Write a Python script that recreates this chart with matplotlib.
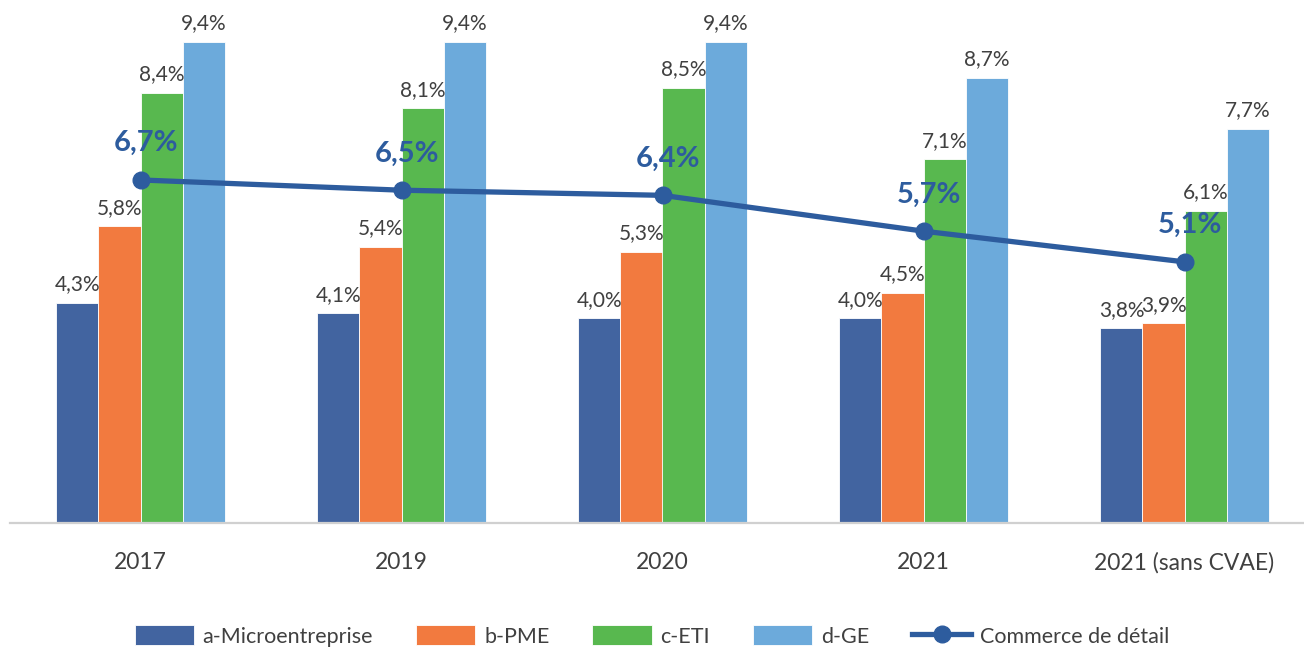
import matplotlib
matplotlib.use("Agg")
import matplotlib.pyplot as plt
import numpy as np

categories = ["2017", "2019", "2020", "2021", "2021 (sans CVAE)"]
micro = [4.3, 4.1, 4.0, 4.0, 3.8]
pme = [5.8, 5.4, 5.3, 4.5, 3.9]
eti = [8.4, 8.1, 8.5, 7.1, 6.1]
ge = [9.4, 9.4, 9.4, 8.7, 7.7]
commerce = [6.7, 6.5, 6.4, 5.7, 5.1]

series_names = ["a-Microentreprise", "b-PME", "c-ETI", "d-GE"]
series_colors = ["#4264A0", "#F27A3F", "#58B84F", "#6CAADB"]
line_name = "Commerce de détail"
line_color = "#2D5C9E"

plt.rcParams['font.family'] = ['Lato', 'DejaVu Sans']

fig = plt.figure(figsize=(13.04, 6.5), dpi=100)
ax = fig.add_axes([10/1304, 127/650, 1305/1304, 512/650])

x = np.arange(len(categories))
w = 0.161
offsets = [-1.5, -0.5, 0.5, 1.5]
label_col = "#404040"
for vals, name, col, off in zip([micro, pme, eti, ge], series_names, series_colors, offsets):
    ax.bar(x + off * w, vals, width=w, color=col, label=name,
           edgecolor="white", linewidth=0.6, zorder=2)
    for xi, v in zip(x + off * w, vals):
        ax.annotate(f"{v:.1f}".replace(".", ",") + "%", (xi, v),
                    xytext=(0, 6), textcoords="offset points",
                    ha="center", va="bottom", fontsize=15, color=label_col)

ax.plot(x, commerce, color=line_color, linewidth=3.8, marker="o",
        markersize=12, label=line_name, zorder=4)
for xi, v in zip(x, commerce):
    ax.annotate(f"{v:.1f}".replace(".", ",") + "%", (xi, v),
                xytext=(4, 17), textcoords="offset points",
                ha="center", va="bottom", fontsize=21, fontweight="bold",
                color=line_color, zorder=5)

ax.set_xlim(-0.5, 4.5)
ax.set_ylim(0, 10)
ax.set_yticks([])
ax.set_xticks(x)
ax.set_xticklabels(categories, fontsize=16.5, color=label_col)
ax.tick_params(axis="x", length=0, pad=21)
for s in ["top", "right", "left"]:
    ax.spines[s].set_visible(False)
ax.spines["bottom"].set_color("#D0D0D0")
ax.spines["bottom"].set_linewidth(1.6)

handles, labels = ax.get_legend_handles_labels()
order = [1, 2, 3, 4, 0]
fig.legend([handles[i] for i in order], [labels[i] for i in order],
           loc="center", bbox_to_anchor=(0.5, 1 - 636/650), ncol=5,
           frameon=False, fontsize=15.5, handlelength=2.75, handleheight=1.05,
           handletextpad=0.4, columnspacing=2.0, labelcolor=label_col)

fig.savefig("out.png", dpi=100)
